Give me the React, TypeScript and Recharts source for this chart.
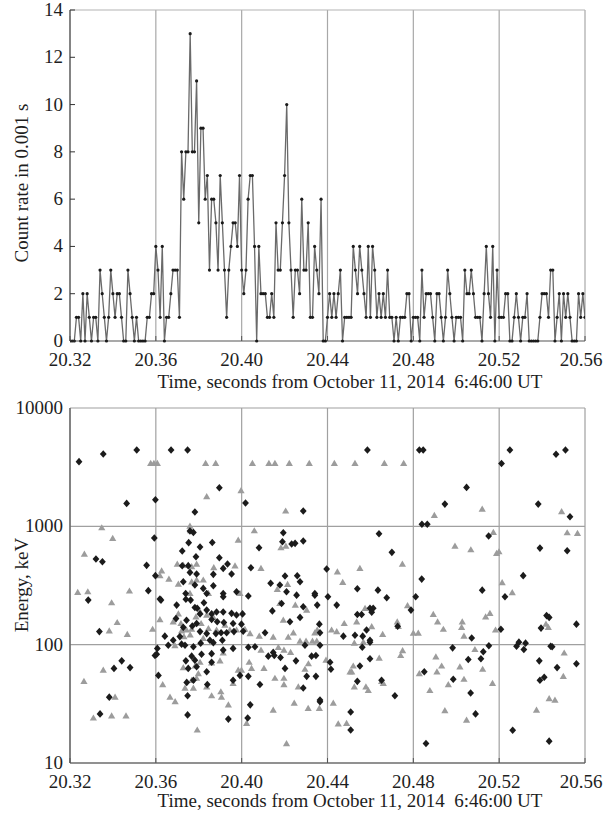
import React from 'react';
import { LineChart, Line, XAxis, YAxis, CartesianGrid, ReferenceLine, ScatterChart, Scatter } from 'recharts';

const FONT = "'Liberation Serif', 'Times New Roman', serif";

const timeTicks = [20.32, 20.36, 20.4, 20.44, 20.48, 20.52, 20.56];
const countTicks = [0, 2, 4, 6, 8, 10, 12, 14];
const energyTicks = [10, 100, 1000, 10000];
const xTitle = 'Time, seconds from October 11, 2014  6:46:00 UT';
const countTitle = 'Count rate in 0.001 s';
const energyTitle = 'Energy, keV';

const binStart = 20.32;
const binWidth = 0.001;

// counts per 0.001 s bin, from 20.320 to 20.560
const counts = [
  0, 0, 0, 1, 1, 0, 2, 0, 2, 1, 0, 1, 1, 0, 3, 2, 1, 0, 1, 3, 2, 1, 2, 2, 1, 0, 0, 3, 2, 1, 0, 1, 0, 0, 0, 0, 1, 1, 2, 2, 4, 3, 1, 4, 0, 1, 1, 2, 3, 3, 3, 1,
  8, 6, 8, 8, 13, 8, 8, 11, 5, 9, 9, 6, 7, 3, 6, 6, 5, 3, 7, 5, 3, 1, 3, 4, 5, 5, 4, 7, 3, 2, 3, 6, 7, 7, 4, 0, 4, 2, 2,
  2, 1, 1, 2, 1, 5, 3, 3, 5, 7, 10, 5, 3, 1, 3, 3, 2, 6, 3, 3, 5, 1, 1, 4, 3, 2, 6, 0, 0, 1, 2, 1, 2, 1, 2, 3, 0, 1, 1, 1,
  1, 4, 3, 2, 4, 3, 2, 1, 4, 1, 4, 3, 1, 2, 1, 2, 1, 3, 1, 1, 0, 1, 0, 1, 1, 1, 2, 2, 0, 1, 1, 1, 0, 3, 1, 2, 2, 2, 1, 0, 2, 2, 1, 0, 1, 3, 2, 1,
  0, 1, 1, 1, 0, 3, 2, 2, 3, 2, 1, 1, 1, 0, 2, 4, 2, 1, 4, 0, 3, 1, 1, 1, 2, 2, 0, 0, 1, 2, 1, 0, 1, 1, 2, 0, 0, 0, 0, 0, 1, 2, 2, 2, 1, 3, 3, 0, 1, 2, 0, 2, 1, 2, 1, 0, 0, 0, 2, 1, 2, 1,
];

// black diamonds: [time s, energy keV]
const diamondHigh: [number, number][] = [
  [20.3242, 3520], [20.3355, 4085], [20.3511, 4420], [20.3671, 4420], [20.3748, 4420], [20.3464, 1563], [20.3598, 1678], [20.3896, 2120], [20.3782, 1321], [20.4018, 1574], [20.4287, 1347],
  [20.4586, 4420], [20.4828, 4420], [20.4846, 4420], [20.525, 4420], [20.5509, 4420], [20.5211, 3400], [20.5465, 4060], [20.5048, 2133], [20.4947, 1542], [20.5382, 1542], [20.553, 1206], [20.484, 1040], [20.4865, 1040],
];
const diamondMid: [number, number][] = [
  [20.3321, 529], [20.3351, 502], [20.3557, 468], [20.3593, 796], [20.3598, 383], [20.3565, 286],
  [20.3759, 912], [20.3775, 889], [20.3753, 728], [20.3806, 668], [20.3863, 731], [20.3723, 618], [20.3787, 553], [20.3896, 543], [20.3723, 464], [20.3751, 464], [20.3759, 408], [20.379, 395], [20.3934, 480], [20.3914, 441], [20.3953, 395], [20.3868, 393], [20.3728, 340], [20.3821, 299], [20.3868, 315], [20.3782, 319], [20.3739, 271], [20.3837, 271], [20.3976, 280], [20.4031, 258], [20.3619, 243], [20.4043, 447], [20.4081, 659], [20.4194, 883], [20.419, 741], [20.4233, 709], [20.4249, 718], [20.4287, 751], [20.4202, 380], [20.4259, 382], [20.4135, 330], [20.4178, 319], [20.4209, 280], [20.4272, 340], [20.4341, 271], [20.3914, 271],
  [20.464, 866], [20.47, 603], [20.5151, 828], [20.539, 655], [20.5517, 622], [20.4396, 436], [20.4539, 297], [20.4635, 289], [20.4676, 249], [20.4839, 358], [20.5121, 289], [20.5312, 383], [20.5227, 254], [20.4402, 254], [20.4811, 254],
];
const diamondLow: [number, number][] = [
  [20.3285, 238], [20.3337, 129], [20.3441, 73], [20.3405, 63], [20.348, 64], [20.3383, 36], [20.334, 26],
  [20.3624, 238], [20.3697, 216], [20.374, 242], [20.3762, 238], [20.3782, 206], [20.3793, 203], [20.3806, 182], [20.3824, 226], [20.3837, 196], [20.386, 182], [20.3883, 189], [20.3914, 254], [20.3914, 189], [20.386, 163], [20.3886, 156], [20.3917, 154], [20.3953, 184], [20.3976, 178], [20.4004, 182], [20.396, 151], [20.3999, 149], [20.4007, 130], [20.3964, 129], [20.393, 126], [20.3904, 126], [20.388, 124], [20.3837, 124], [20.3806, 129], [20.377, 144], [20.379, 151], [20.3743, 161], [20.3728, 140], [20.3694, 166], [20.3712, 117], [20.3681, 109], [20.3642, 118], [20.3607, 93], [20.3596, 81], [20.3658, 99], [20.372, 101], [20.3736, 99], [20.3775, 96], [20.3809, 103], [20.3852, 109], [20.3868, 104], [20.391, 109], [20.3914, 90], [20.396, 93], [20.386, 84], [20.3813, 83], [20.3767, 80], [20.374, 73], [20.3782, 74], [20.386, 71], [20.379, 65], [20.3751, 63], [20.3837, 59], [20.3775, 50], [20.3744, 48], [20.384, 46], [20.3748, 37], [20.3748, 25.5], [20.396, 50], [20.3992, 55], [20.4031, 54], [20.404, 31], [20.3938, 23.5], [20.4028, 24], [20.4085, 46], [20.4031, 95], [20.4062, 96], [20.4109, 126], [20.4143, 193], [20.4186, 223], [20.4225, 156], [20.4272, 170], [20.4256, 262], [20.4287, 209], [20.4352, 216], [20.4341, 262], [20.4147, 86], [20.4202, 63], [20.4152, 81], [20.4124, 80], [20.4181, 78], [20.4253, 73], [20.4287, 43], [20.4295, 99], [20.4326, 80], [20.4346, 81], [20.4303, 54], [20.4346, 54], [20.4362, 149], [20.4365, 126], [20.4365, 33], [20.3612, 55], [20.3604, 83],
  [20.4443, 216], [20.4539, 180], [20.4559, 180], [20.4598, 203], [20.4613, 203], [20.4606, 188], [20.4789, 196], [20.4727, 143], [20.4582, 133], [20.4474, 118], [20.4528, 120], [20.4564, 118], [20.4598, 109], [20.4598, 105], [20.4562, 95], [20.4365, 99], [20.4598, 76], [20.4412, 71], [20.4416, 62], [20.4551, 66], [20.4539, 49], [20.4652, 50], [20.4714, 37], [20.4365, 34], [20.4508, 27], [20.4508, 19], [20.4983, 94], [20.5072, 114], [20.5126, 87], [20.5056, 75], [20.5115, 76], [20.5152, 98], [20.4851, 59], [20.4986, 51], [20.5067, 39], [20.509, 26], [20.4859, 14.6], [20.5208, 135], [20.5292, 105], [20.5281, 97], [20.5323, 103], [20.5315, 91], [20.5395, 138], [20.5421, 176], [20.5433, 170], [20.544, 97], [20.5447, 96], [20.5387, 73], [20.547, 64], [20.541, 53], [20.539, 50], [20.556, 149], [20.556, 69], [20.5263, 18.9], [20.5433, 15.3],
];

// grey triangles: [time s, energy keV]
const triangleHigh: [number, number][] = [
  [20.3576, 3400], [20.3591, 3400], [20.3607, 3400], [20.3832, 3400], [20.3879, 3400], [20.405, 3400], [20.4127, 3400], [20.4155, 3400], [20.4222, 3400], [20.4315, 3400], [20.3837, 1780], [20.3997, 2000], [20.4205, 1347], [20.3348, 973],
  [20.4432, 3400], [20.4528, 3400], [20.4665, 3400], [20.4755, 3400], [20.4898, 1239], [20.5121, 1400], [20.5491, 1330], [20.3759, 1005],
];
const triangleMid: [number, number][] = [
  [20.3399, 791], [20.3267, 583], [20.3236, 277], [20.3283, 280], [20.3477, 284],
  [20.3762, 918], [20.37, 480], [20.3728, 471], [20.3751, 470], [20.3767, 456], [20.379, 480], [20.3627, 421], [20.3661, 358], [20.3619, 383], [20.3705, 325], [20.3767, 340], [20.379, 352], [20.3821, 352], [20.3759, 271], [20.3845, 271], [20.3992, 271], [20.387, 447], [20.3969, 464], [20.3984, 766], [20.4059, 918], [20.409, 441], [20.4206, 681], [20.4183, 659], [20.4214, 323], [20.4166, 293],
  [20.5517, 883], [20.5565, 872], [20.5173, 889], [20.4994, 681], [20.5068, 634], [20.5199, 610], [20.5188, 591], [20.4749, 480], [20.4551, 441], [20.4446, 413], [20.4471, 336], [20.5214, 334], [20.5261, 275],
];
const triangleLow: [number, number][] = [
  [20.3394, 226], [20.342, 154], [20.3383, 131], [20.3467, 122], [20.3355, 61], [20.3265, 49], [20.341, 36], [20.3309, 24], [20.3394, 25], [20.3461, 25],
  [20.3619, 163], [20.3585, 135], [20.3681, 156], [20.3705, 182], [20.3717, 151], [20.372, 131], [20.3743, 133], [20.3767, 135], [20.376, 121], [20.3731, 117], [20.3689, 98], [20.3787, 172], [20.3806, 189], [20.3837, 178], [20.3868, 170], [20.3811, 151], [20.3845, 137], [20.3821, 113], [20.3883, 133], [20.3922, 146], [20.3945, 133], [20.3976, 133], [20.4015, 135], [20.4039, 124], [20.4082, 118], [20.409, 90], [20.4046, 63], [20.4104, 63], [20.4035, 71], [20.3984, 61], [20.3999, 61], [20.396, 47], [20.3914, 85], [20.3899, 73], [20.386, 70], [20.3806, 71], [20.3783, 66], [20.3798, 57], [20.3728, 64], [20.3767, 50], [20.379, 52], [20.3736, 43], [20.3775, 43], [20.3837, 44], [20.3903, 40], [20.3906, 36], [20.386, 37], [20.3938, 31], [20.4023, 21.6], [20.3793, 19], [20.3666, 36], [20.369, 33], [20.3632, 46], [20.4147, 116], [20.4194, 161], [20.4217, 116], [20.4241, 126], [20.4171, 95], [20.4197, 90], [20.4228, 86], [20.4272, 107], [20.43, 107], [20.433, 107], [20.435, 107], [20.4311, 69], [20.4295, 62], [20.4264, 44], [20.431, 29], [20.4362, 29], [20.4245, 32], [20.4155, 52], [20.4197, 52], [20.4197, 46], [20.4147, 28], [20.4209, 14.6], [20.4303, 196], [20.4341, 126], [20.4352, 133], [20.425, 216], [20.4178, 223],
  [20.4575, 203], [20.4478, 151], [20.4536, 156], [20.4606, 142], [20.4419, 133], [20.4443, 129], [20.4657, 122], [20.4725, 156], [20.473, 143], [20.4525, 103], [20.4567, 105], [20.4773, 214], [20.48, 125], [20.4823, 125], [20.4893, 180], [20.4913, 156], [20.494, 135], [20.5028, 156], [20.5025, 140], [20.5036, 118], [20.5137, 172], [20.5157, 184], [20.5183, 133], [20.5087, 91], [20.475, 89], [20.4741, 81], [20.4641, 77], [20.452, 66], [20.4513, 59], [20.4505, 59], [20.4393, 74], [20.4905, 79], [20.4932, 66], [20.491, 59], [20.4828, 57], [20.5017, 65], [20.5123, 62], [20.5036, 51], [20.4963, 46], [20.4877, 41], [20.5169, 47], [20.4525, 44], [20.4579, 44], [20.459, 41], [20.4652, 49], [20.466, 47], [20.4427, 32], [20.445, 21.4], [20.4489, 21.6], [20.4947, 27.7], [20.5048, 23], [20.5418, 149], [20.5429, 140], [20.5503, 85], [20.5499, 54], [20.5433, 35], [20.546, 34], [20.5374, 28],
];

const countData = counts.map((c, i) => ({ t: binStart + i * binWidth, c }));
const toPts = (arr: [number, number][]) => arr.map(([t, e]) => ({ t, e }));
const diamondData = toPts([...diamondHigh, ...diamondMid, ...diamondLow]);
const triangleData = toPts([...triangleHigh, ...triangleMid, ...triangleLow]);

const fmtTime = (v: number) => v.toFixed(2);
const lastTime = timeTicks[timeTicks.length - 1];

function LeftTick(props: any) {
  const { x, y, payload, withLine } = props;
  return (
    <g>
      {withLine ? <line x1={x} y1={y} x2={x + 5} y2={y} stroke="#333" strokeWidth={1} /> : null}
      <text x={x - 7} y={y} dy={6} textAnchor="end" fontSize={19} fontFamily={FONT} fill="#1e1e1e">
        {payload.value}
      </text>
    </g>
  );
}

function RightTick(props: any) {
  const { x, y } = props;
  return <line x1={x - 6} y1={y} x2={x} y2={y} stroke="#333" strokeWidth={1.2} />;
}

function BottomTick(props: any) {
  const { x, y, payload, dyText } = props;
  const isLast = Math.abs(payload.value - lastTime) < 1e-9;
  return (
    <g>
      <line x1={x} y1={y} x2={x} y2={y - 5} stroke="#555" strokeWidth={1} />
      <text x={isLast ? x - 4 : x} y={y + dyText} textAnchor="middle" fontSize={19} fontFamily={FONT} fill="#1e1e1e">
        {fmtTime(payload.value)}
      </text>
    </g>
  );
}

const DotMark = (p: any) => <circle key={`d${p.index}`} cx={p.cx} cy={p.cy} r={1.6} fill="#1a1a1a" />;

const DiamondShape = (p: any) => {
  const { cx, cy } = p;
  return <path d={`M${cx},${cy - 3.8}L${cx + 3.4},${cy}L${cx},${cy + 3.8}L${cx - 3.4},${cy}Z`} fill="#1b1b1b" />;
};

const TriangleShape = (p: any) => {
  const { cx, cy } = p;
  return <path d={`M${cx},${cy - 3.6}L${cx + 3.6},${cy + 2.6}L${cx - 3.6},${cy + 2.6}Z`} fill="#9c9c9c" />;
};

const titleStyle: React.CSSProperties = {
  position: 'absolute',
  fontFamily: FONT,
  fontSize: 19,
  lineHeight: '22px',
  height: 22,
  color: '#1e1e1e',
  whiteSpace: 'pre',
  textAlign: 'center',
};

export default function App() {
  return (
    <div style={{ position: 'absolute', left: 0, top: 0, width: 604, height: 816, background: '#fff', overflow: 'hidden' }}>
      <div style={{ position: 'absolute', left: 0, top: 0 }}>
        <LineChart width={604} height={400} data={countData} margin={{ top: 10, right: 19, left: 0, bottom: 29 }}>
          <CartesianGrid yAxisId="l" horizontal={false} vertical stroke="#a8a8a8" strokeWidth={1.2} />
          <ReferenceLine yAxisId="l" y={14} stroke="#b4b4b4" strokeWidth={1.2} />
          <XAxis
            dataKey="t"
            type="number"
            domain={[20.32, 20.56]}
            ticks={timeTicks}
            interval={0}
            allowDataOverflow
            height={30}
            tickSize={0}
            tickMargin={0}
            tickLine={false}
            axisLine={{ stroke: '#555', strokeWidth: 1.2 }}
            tick={<BottomTick dyText={25} />}
          />
          <YAxis
            yAxisId="l"
            domain={[0, 14]}
            ticks={countTicks}
            interval={0}
            width={70}
            tickSize={0}
            tickMargin={0}
            tickLine={false}
            axisLine={{ stroke: '#555', strokeWidth: 1.2 }}
            tick={<LeftTick withLine />}
          />
          <YAxis
            yAxisId="r"
            orientation="right"
            domain={[0, 14]}
            ticks={countTicks.slice(1, -1)}
            interval={0}
            width={0}
            tickSize={0}
            tickMargin={0}
            tickLine={false}
            axisLine={{ stroke: '#b4b4b4', strokeWidth: 1.2 }}
            tick={<RightTick />}
          />
          <Line
            yAxisId="l"
            dataKey="c"
            type="linear"
            stroke="#6a6a6a"
            strokeWidth={1.3}
            dot={DotMark}
            activeDot={false}
            isAnimationActive={false}
          />
        </LineChart>
      </div>
      <div style={{ position: 'absolute', left: 0, top: 390 }}>
        <ScatterChart width={604} height={426} margin={{ top: 18, right: 19, left: 0, bottom: 23 }}>
          <CartesianGrid stroke="#a0a0a0" strokeWidth={1.2} />
          <XAxis
            dataKey="t"
            type="number"
            domain={[20.32, 20.56]}
            ticks={timeTicks}
            interval={0}
            allowDataOverflow
            height={30}
            tickSize={0}
            tickMargin={0}
            tickLine={false}
            axisLine={{ stroke: '#555', strokeWidth: 1.2 }}
            tick={<BottomTick dyText={25} />}
          />
          <YAxis
            dataKey="e"
            type="number"
            scale="log"
            domain={[10, 10000]}
            ticks={energyTicks}
            interval={0}
            allowDataOverflow
            width={70}
            tickSize={0}
            tickMargin={0}
            tickLine={false}
            axisLine={{ stroke: '#555', strokeWidth: 1.2 }}
            tick={<LeftTick />}
          />
          <Scatter data={triangleData} shape={TriangleShape} isAnimationActive={false} />
          <Scatter data={diamondData} shape={DiamondShape} isAnimationActive={false} />
        </ScatterChart>
      </div>
      <div style={{ ...titleStyle, left: 0, width: 700, top: 371 }}>{xTitle}</div>
      <div style={{ ...titleStyle, left: 0, width: 700, top: 790 }}>{xTitle}</div>
      <div style={{ ...titleStyle, left: 22 - 150, top: 183 - 11, width: 300, transform: 'rotate(-90deg)' }}>{countTitle}</div>
      <div style={{ ...titleStyle, left: 22 - 150, top: 585 - 11, width: 300, transform: 'rotate(-90deg)' }}>{energyTitle}</div>
    </div>
  );
}
